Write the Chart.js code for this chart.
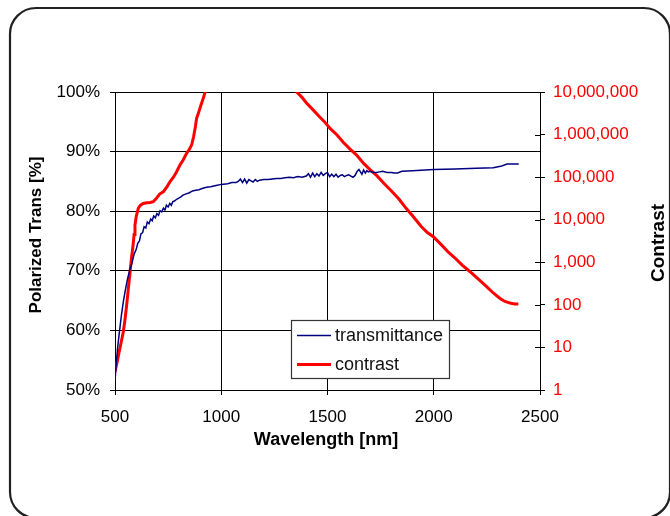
<!DOCTYPE html>
<html>
<head>
<meta charset="utf-8">
<script src="https://cdn.jsdelivr.net/npm/chart.js@4"></script>
<style>
html,body{margin:0;padding:0;background:#fff;}
#wrap{width:670px;height:516px;}
</style>
</head>
<body>
<div id="wrap"><canvas id="c" width="670" height="516"></canvas></div>
<script>
// ---- data ----
const xTicks = [500, 1000, 1500, 2000, 2500];
const yTicks = [50, 60, 70, 80, 90, 100];
const contrastTicks = [1, 10, 100, 1000, 10000, 100000, 1000000, 10000000];

const waveT = [500,505,512,520,530,540,550,560,570,580,590,600,607,615,622,630,637,645,652,660,668,675,682,690,697,705,712,720,728,735,742,750,758,765,772,780,790,800,810,820,835,850,865,880,895,910,930,950,975,1000,1030,1050,1070,1080,1090,1100,1110,1120,1130,1140,1150,1160,1170,1180,1200,1220,1240,1260,1280,1300,1320,1340,1360,1380,1400,1410,1420,1430,1440,1450,1460,1470,1480,1490,1500,1510,1520,1530,1540,1550,1560,1570,1580,1590,1600,1610,1620,1630,1640,1648,1655,1662,1670,1678,1685,1692,1700,1715,1730,1745,1760,1780,1800,1815,1830,1850,1900,2000,2100,2200,2280,2320,2345,2400];
const trans = [51.5,54,57,59.5,62.5,65,67,68.8,70.2,71.3,72.8,73.6,74.6,75.0,76.2,76.4,77.4,77.2,78.2,77.9,78.7,78.4,79.2,78.9,79.6,79.3,80.1,79.9,80.5,80.2,81.0,80.7,81.3,81.0,81.6,81.7,82.0,82.2,82.4,82.7,82.9,83.1,83.4,83.5,83.6,83.8,84.0,84.1,84.3,84.5,84.6,84.8,84.8,85.0,85.4,84.8,85.4,84.7,85.3,85.1,84.9,85.3,85.0,85.2,85.3,85.3,85.4,85.5,85.5,85.6,85.7,85.6,85.8,85.7,85.9,86.3,85.7,86.4,85.8,86.3,85.9,86.5,86.0,86.3,86.5,85.8,86.2,85.8,86.2,85.7,86.0,86.1,85.8,86.0,86.1,85.9,85.7,86.0,86.7,87.0,86.6,86.2,86.9,86.4,86.8,86.6,86.7,86.5,86.5,86.6,86.7,86.5,86.5,86.4,86.4,86.7,86.8,87.0,87.1,87.2,87.3,87.6,87.9,87.9];

const waveC = [500,510,520,530,539,547,555,563,571,578,585,590,594,600,610,620,633,650,665,680,695,710,727,745,760,775,790,805,820,837,850,861,870,878,884,895,905,915,924,950,1150,1330,1355,1380,1400,1430,1460,1490,1512,1545,1575,1605,1637,1670,1700,1731,1765,1800,1835,1870,1904,1940,1970,1998,2035,2070,2100,2135,2171,2210,2250,2280,2312,2335,2359,2380,2398];
const contrast = [2.7,4.5,8,14,23,45,100,250,600,1300,2500,4500,7500,12000,18600,22000,24000,25000,25500,26500,32000,40000,45000,60000,80000,100000,134000,190000,250000,363000,450000,575000,900000,1500000,2400000,3500000,5000000,7000000,10000000,25000000,1000000000,20000000,10000000,7500000,5600000,3900000,2700000,1900000,1400000,980000,650000,460000,330000,210000,150000,110000,72000,48000,31000,18500,11700,7000,5000,4000,2600,1700,1260,850,600,400,263,190,141,120,110,105,105];

const seriesNames = ['transmittance', 'contrast'];
const seriesColors = ['#000080', '#ff0000'];

const FONT = "'Liberation Sans', Arial, sans-serif";

const framePlugin = {
  id: 'frame',
  beforeDraw(chart) {
    const ctx = chart.ctx;
    ctx.save();
    ctx.fillStyle = '#fff';
    ctx.fillRect(0, 0, chart.width, chart.height);
    ctx.strokeStyle = '#222';
    ctx.lineWidth = 2.2;
    const x = 10, y = 8, w = 660, h = 510, r = 26;
    ctx.beginPath();
    ctx.moveTo(x + r, y);
    ctx.lineTo(x + w - r, y);
    ctx.arcTo(x + w, y, x + w, y + r, r);
    ctx.lineTo(x + w, y + h - r);
    ctx.arcTo(x + w, y + h, x + w - r, y + h, r);
    ctx.lineTo(x + r, y + h);
    ctx.arcTo(x, y + h, x, y + h - r, r);
    ctx.lineTo(x, y + r);
    ctx.arcTo(x, y, x + r, y, r);
    ctx.closePath();
    ctx.stroke();
    ctx.restore();
  }
};

const extrasPlugin = {
  id: 'extras',
  afterDatasetsDraw(chart) {
    const ctx = chart.ctx;
    const ca = chart.chartArea;
    const y2 = chart.scales.y2;
    ctx.save();
    // inward tick marks on right axis
    ctx.strokeStyle = '#000';
    ctx.lineWidth = 1;
    contrastTicks.forEach(v => {
      const py = Math.round(y2.getPixelForValue(v)) + 0.5;
      ctx.beginPath();
      ctx.moveTo(ca.right - 5, py);
      ctx.lineTo(ca.right, py);
      ctx.stroke();
    });
    // legend box
    const lx = 291.5, ly = 320.5, lw = 158, lh = 58;
    ctx.fillStyle = '#fff';
    ctx.fillRect(lx, ly, lw, lh);
    ctx.strokeStyle = '#333';
    ctx.lineWidth = 1.2;
    ctx.strokeRect(lx, ly, lw, lh);
    const rows = [335.5, 364.5];
    const widths = [1.5, 3];
    ctx.font = '18px ' + FONT;
    ctx.textBaseline = 'middle';
    ctx.textAlign = 'left';
    seriesNames.forEach((n, i) => {
      ctx.strokeStyle = seriesColors[i];
      ctx.lineWidth = widths[i];
      ctx.beginPath();
      ctx.moveTo(297, rows[i]);
      ctx.lineTo(331, rows[i]);
      ctx.stroke();
      ctx.fillStyle = '#111';
      ctx.fillText(n, 335, rows[i] + 0.5);
    });
    // axis titles
    ctx.fillStyle = '#000';
    ctx.textAlign = 'center';
    ctx.font = 'bold 17px ' + FONT;
    ctx.save();
    ctx.translate(36, 235);
    ctx.rotate(-Math.PI / 2);
    ctx.fillText('Polarized Trans [%]', 0, 0);
    ctx.restore();
    ctx.font = 'bold 19px ' + FONT;
    ctx.save();
    ctx.translate(659, 243);
    ctx.rotate(-Math.PI / 2);
    ctx.fillText('Contrast', 0, 0);
    ctx.restore();
    ctx.font = 'bold 18px ' + FONT;
    ctx.fillText('Wavelength [nm]', 326, 440);
    ctx.restore();
  }
};

new Chart(document.getElementById('c'), {
  type: 'scatter',
  data: {
    datasets: [
      {
        label: seriesNames[0],
        data: waveT.map((w, i) => ({x: w, y: trans[i]})),
        showLine: true,
        borderColor: seriesColors[0],
        backgroundColor: seriesColors[0],
        borderWidth: 1.5,
        pointRadius: 0,
        yAxisID: 'y'
      },
      {
        label: seriesNames[1],
        data: waveC.map((w, i) => ({x: w, y: contrast[i]})),
        showLine: true,
        borderColor: seriesColors[1],
        backgroundColor: seriesColors[1],
        borderWidth: 3,
        pointRadius: 0,
        yAxisID: 'y2'
      }
    ]
  },
  options: {
    responsive: false,
    animation: false,
    layout: {padding: {top: 92, left: 0, right: 0, bottom: 0}},
    plugins: {legend: {display: false}, tooltip: {enabled: false}},
    scales: {
      x: {
        type: 'linear',
        min: 500, max: 2500,
        afterBuildTicks: s => { s.ticks = xTicks.map(v => ({value: v})); },
        afterFit: s => { s.height = 126; },
        ticks: {font: {family: FONT, size: 17}, color: '#000', padding: 12, maxRotation: 0,
                callback: v => String(v)},
        grid: {color: '#000', lineWidth: 1, tickLength: 5},
        border: {color: '#000', width: 1}
      },
      y: {
        type: 'linear',
        position: 'left',
        min: 50, max: 100,
        afterBuildTicks: s => { s.ticks = yTicks.map(v => ({value: v})); },
        afterFit: s => { s.width = 115; },
        ticks: {font: {family: FONT, size: 17}, color: '#000', padding: 10, callback: v => v + '%'},
        grid: {color: '#000', lineWidth: 1, tickLength: 5},
        border: {color: '#000', width: 1}
      },
      y2: {
        type: 'logarithmic',
        position: 'right',
        min: 1, max: 10000000,
        afterBuildTicks: s => { s.ticks = contrastTicks.map(v => ({value: v})); },
        afterFit: s => { s.width = 130; },
        ticks: {font: {family: FONT, size: 17}, color: '#ff0000', padding: 8,
                callback: v => Number(v).toLocaleString('en-US')},
        grid: {drawOnChartArea: false, color: '#000', lineWidth: 1, tickLength: 5},
        border: {color: '#000', width: 1}
      }
    }
  },
  plugins: [framePlugin, extrasPlugin]
});
</script>
</body>
</html>
